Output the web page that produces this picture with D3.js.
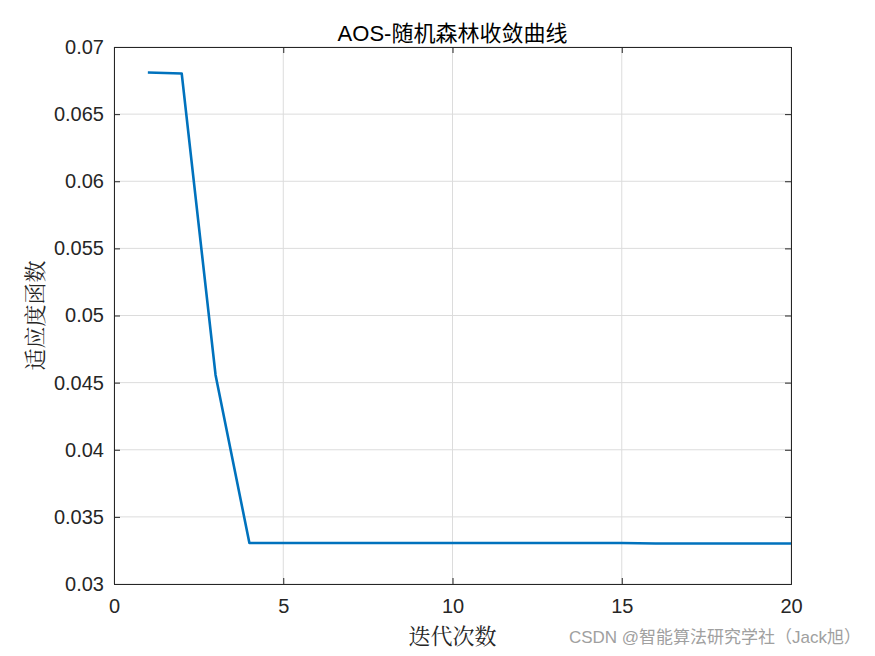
<!DOCTYPE html>
<html>
<head>
<meta charset="utf-8">
<script src="https://cdn.jsdelivr.net/npm/d3@7"></script>
<style>
  body { margin: 0; background: #fff; }
  svg { display: block; }
</style>
</head>
<body>
<div id="chart"></div>
<script>
// data
var iterations = [1, 2, 3, 4, 5, 6, 7, 8, 9, 10, 11, 12, 13, 14, 15, 16, 17, 18, 19, 20];
var fitness = [0.06810, 0.06803, 0.04557, 0.03305, 0.03305, 0.03305, 0.03305, 0.03305, 0.03305, 0.03305,
               0.03305, 0.03305, 0.03305, 0.03305, 0.03305, 0.03302, 0.03302, 0.03302, 0.03302, 0.03302];
var xTicks = [0, 5, 10, 15, 20];
var yTicks = [0.03, 0.035, 0.04, 0.045, 0.05, 0.055, 0.06, 0.065, 0.07];

var W = 875, H = 656;
var margin = { top: 47, right: 84, bottom: 72, left: 114 },
    width = W - margin.left - margin.right,
    height = H - margin.top - margin.bottom;

var svg = d3.select("#chart").append("svg")
    .attr("width", W)
    .attr("height", H);

var g = svg.append("g")
    .attr("transform", "translate(" + margin.left + "," + margin.top + ")");

var x = d3.scaleLinear().domain([0, 20]).range([0, width]);
var y = d3.scaleLinear().domain([0.03, 0.07]).range([height, 0]);

// grid
g.append("g")
    .selectAll("line")
    .data(xTicks)
    .enter().append("line")
    .attr("x1", function (d) { return x(d); })
    .attr("x2", function (d) { return x(d); })
    .attr("y1", 0).attr("y2", height)
    .attr("stroke", "#dcdcdc").attr("stroke-width", 1);

g.append("g")
    .selectAll("line")
    .data(yTicks)
    .enter().append("line")
    .attr("y1", function (d) { return y(d); })
    .attr("y2", function (d) { return y(d); })
    .attr("x1", 0).attr("x2", width)
    .attr("stroke", "#dcdcdc").attr("stroke-width", 1);

// axes
var fmtY = function (d) { return d3.format(".3~f")(d); };

var xAxis = g.append("g")
    .attr("transform", "translate(0," + height + ")")
    .call(d3.axisBottom(x).tickValues(xTicks).tickSize(-6).tickPadding(15));
var xTop = g.append("g")
    .call(d3.axisTop(x).tickValues(xTicks).tickSize(-6).tickFormat(""));
var yAxis = g.append("g")
    .call(d3.axisLeft(y).tickValues(yTicks).tickSize(-6).tickPadding(10).tickFormat(fmtY));
var yRight = g.append("g")
    .attr("transform", "translate(" + width + ",0)")
    .call(d3.axisRight(y).tickValues(yTicks).tickSize(-6).tickFormat(""));

[xAxis, xTop, yAxis, yRight].forEach(function (a) {
    a.select(".domain").attr("stroke", "#262626").attr("stroke-width", 1);
    a.selectAll(".tick line").attr("stroke", "#262626");
    a.selectAll("text")
        .attr("fill", "#262626")
        .style("font-family", "Arial, 'Liberation Sans', sans-serif")
        .style("font-size", "20px");
});

// line
var line = d3.line()
    .x(function (d, i) { return x(iterations[i]); })
    .y(function (d) { return y(d); });

g.append("path")
    .datum(fitness)
    .attr("d", line)
    .attr("fill", "none")
    .attr("stroke", "#0072BD")
    .attr("stroke-width", 2.6)
    .attr("stroke-linejoin", "round");

// title and labels
svg.append("text")
    .attr("x", margin.left + width / 2)
    .attr("y", 41)
    .attr("text-anchor", "middle")
    .style("font-family", "Arial, 'Liberation Sans', 'Noto Sans CJK SC', sans-serif")
    .style("font-size", "22px")
    .attr("fill", "#000")
    .text("AOS-随机森林收敛曲线");

svg.append("text")
    .attr("x", margin.left + width / 2)
    .attr("y", 644)
    .attr("text-anchor", "middle")
    .style("font-family", "'Noto Serif CJK SC', 'Noto Sans CJK SC', serif")
    .style("font-size", "22px")
    .attr("fill", "#262626")
    .text("迭代次数");

svg.append("text")
    .attr("transform", "translate(43," + (margin.top + height / 2) + ") rotate(-90)")
    .attr("text-anchor", "middle")
    .style("font-family", "'Noto Serif CJK SC', 'Noto Sans CJK SC', serif")
    .style("font-size", "22px")
    .attr("fill", "#262626")
    .text("适应度函数");

// watermark
svg.append("text")
    .attr("x", 861)
    .attr("y", 643)
    .attr("text-anchor", "end")
    .style("font-family", "Arial, 'Noto Sans CJK SC', sans-serif")
    .style("font-size", "17px")
    .attr("fill", "#a0a0a0")
    .text("CSDN @智能算法研究学社（Jack旭）");
</script>
</body>
</html>
